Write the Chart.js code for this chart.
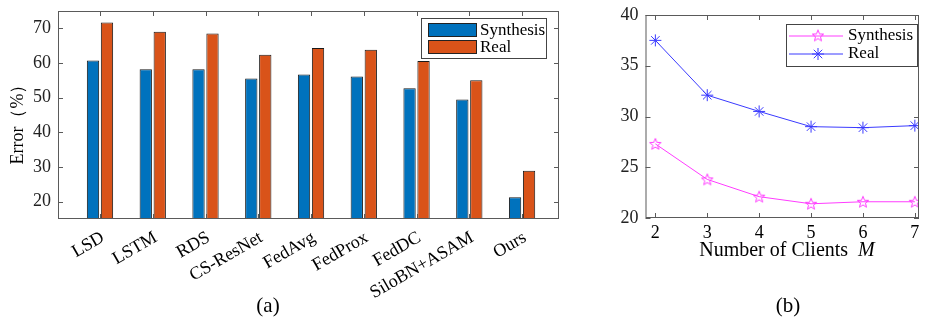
<!DOCTYPE html>
<html>
<head>
<meta charset="utf-8">
<script src="https://cdn.jsdelivr.net/npm/chart.js@4.4.1/dist/chart.umd.min.js"></script>
<style>
  html, body { margin: 0; padding: 0; background: #fff; }
  body { width: 926px; height: 324px; position: relative; overflow: hidden; }
  .box { position: absolute; top: 0; height: 324px; }
  #boxA { left: 0; width: 600px; }
  #boxB { left: 600px; width: 326px; }
</style>
</head>
<body>
<div class="box" id="boxA"><canvas id="barChart"></canvas></div>
<div class="box" id="boxB"><canvas id="lineChart"></canvas></div>
<script>
// (a) error of each method
const methods = ['LSD', 'LSTM', 'RDS', 'CS-ResNet', 'FedAvg', 'FedProx', 'FedDC', 'SiloBN+ASAM', 'Ours'];
const synthErr = [60.7, 58.2, 58.2, 55.5, 56.7, 56.1, 52.7, 49.5, 21.3];
const realErr = [71.7, 69.0, 68.5, 62.4, 64.3, 63.8, 60.6, 55.0, 28.9];
const errTicks = [20, 30, 40, 50, 60, 70];

// (b) error vs number of clients
const clients = [2, 3, 4, 5, 6, 7];
const synthByM = [27.3, 23.8, 22.1, 21.4, 21.6, 21.6];
const realByM = [37.5, 32.1, 30.5, 29.0, 28.9, 29.1];
const mTicks = [20, 25, 30, 35, 40];

const SERIF = '"Liberation Serif", "Times New Roman", serif';
const BLUE = '#0072BD';
const RED = '#D95319';
const MAGENTA = '#ff3cff';
const LBLUE = '#3a3aff';

// pentagram marker for the Synthesis line
function starMarker(color) {
  const c = document.createElement('canvas');
  c.width = 14; c.height = 14;
  const g = c.getContext('2d');
  g.strokeStyle = color;
  g.lineWidth = 1;
  g.beginPath();
  for (let i = 0; i < 10; i++) {
    const r = i % 2 === 0 ? 6 : 2.6;
    const a = -Math.PI / 2 + i * Math.PI / 5;
    const px = 7 + r * Math.cos(a), py = 7.5 + r * Math.sin(a);
    if (i === 0) g.moveTo(px, py); else g.lineTo(px, py);
  }
  g.closePath();
  g.stroke();
  return c;
}
const pentagram = starMarker(MAGENTA);

// MATLAB-like box with inward tick marks
function boxPlugin(xTicks, yTicks) {
  return {
    id: 'box',
    afterDatasetsDraw(chart) {
      const { ctx, chartArea: a, scales } = chart;
      ctx.save();
      ctx.strokeStyle = '#5a5a5a';
      ctx.lineWidth = 1;
      ctx.strokeRect(a.left + 0.5, a.top + 0.5, a.right - a.left - 1, a.bottom - a.top - 1);
      ctx.beginPath();
      xTicks.forEach(v => {
        const x = Math.round(scales.x.getPixelForValue(v)) + 0.5;
        ctx.moveTo(x, a.bottom); ctx.lineTo(x, a.bottom - 5);
        ctx.moveTo(x, a.top); ctx.lineTo(x, a.top + 5);
      });
      yTicks.forEach(v => {
        const y = Math.round(scales.y.getPixelForValue(v)) + 0.5;
        ctx.moveTo(a.left, y); ctx.lineTo(a.left + 5, y);
        ctx.moveTo(a.right, y); ctx.lineTo(a.right - 5, y);
      });
      ctx.stroke();
      ctx.restore();
    }
  };
}

function drawText(ctx, text, x, y, font, rot) {
  ctx.save();
  ctx.translate(x, y);
  if (rot) ctx.rotate(rot);
  ctx.font = font;
  ctx.fillStyle = '#000';
  ctx.textAlign = 'center';
  ctx.textBaseline = 'middle';
  ctx.fillText(text, 0, 0);
  ctx.restore();
}

const labelsA = {
  id: 'labelsA',
  afterDraw(chart) {
    const ctx = chart.ctx;
    drawText(ctx, 'Error（%）', 18, 120, '18px ' + SERIF, -Math.PI / 2);
    drawText(ctx, '(a)', 268, 306, '21px ' + SERIF);
    // legend
    const bx = 421.5, by = 18.5, bw = 125, bh = 40;
    ctx.save();
    ctx.fillStyle = '#fff';
    ctx.fillRect(bx, by, bw, bh);
    ctx.strokeStyle = '#444';
    ctx.lineWidth = 1;
    ctx.strokeRect(bx, by, bw, bh);
    chart.data.datasets.forEach((ds, i) => {
      const ry = 23.5 + i * 17;
      ctx.fillStyle = ds.backgroundColor;
      ctx.fillRect(428.5, ry, 48, 13);
      ctx.strokeStyle = '#222';
      ctx.strokeRect(428.5, ry, 48, 13);
      ctx.fillStyle = '#000';
      ctx.font = '17px ' + SERIF;
      ctx.textAlign = 'left';
      ctx.textBaseline = 'middle';
      ctx.fillText(ds.label, 480, ry + 7);
    });
    ctx.restore();
  }
};

const labelsB = {
  id: 'labelsB',
  afterDraw(chart) {
    const ctx = chart.ctx;
    ctx.save();
    ctx.fillStyle = '#000';
    ctx.textBaseline = 'middle';
    ctx.textAlign = 'left';
    const t1 = 'Number of Clients  ';
    ctx.font = '20px ' + SERIF;
    const w1 = ctx.measureText(t1).width;
    ctx.font = 'italic 20px ' + SERIF;
    const w2 = ctx.measureText('M').width;
    const x0 = 187 - (w1 + w2) / 2;
    ctx.font = '20px ' + SERIF;
    ctx.fillText(t1, x0, 251);
    ctx.font = 'italic 20px ' + SERIF;
    ctx.fillText('M', x0 + w1, 251);
    ctx.restore();
    drawText(ctx, '(b)', 188, 306, '21px ' + SERIF);
    // legend
    const bx = 186.5, by = 24.5, bw = 131, bh = 42;
    ctx.save();
    ctx.fillStyle = '#fff';
    ctx.fillRect(bx, by, bw, bh);
    ctx.strokeStyle = '#444';
    ctx.lineWidth = 1;
    ctx.strokeRect(bx, by, bw, bh);
    chart.data.datasets.forEach((ds, i) => {
      const ry = 36 + i * 18;
      ctx.strokeStyle = ds.borderColor;
      ctx.beginPath();
      ctx.moveTo(189, ry); ctx.lineTo(243, ry);
      ctx.stroke();
      if (ds.pointStyle === 'star') {
        ctx.beginPath();
        for (let k = 0; k < 4; k++) {
          const ang = k * Math.PI / 4;
          ctx.moveTo(218 - 6 * Math.cos(ang), ry - 6 * Math.sin(ang));
          ctx.lineTo(218 + 6 * Math.cos(ang), ry + 6 * Math.sin(ang));
        }
        ctx.stroke();
      } else {
        ctx.drawImage(pentagram, 211, ry - 7.5);
      }
      ctx.fillStyle = '#000';
      ctx.font = '17px ' + SERIF;
      ctx.textAlign = 'left';
      ctx.textBaseline = 'middle';
      ctx.fillText(ds.label, 248, ry);
    });
    ctx.restore();
  }
};

const commonAxis = {
  grid: { display: false, drawTicks: false },
  border: { display: false }
};

new Chart(document.getElementById('barChart'), {
  type: 'bar',
  data: {
    datasets: [{
      label: 'Synthesis',
      data: synthErr.map((v, i) => ({ x: i + 1, y: v })),
      backgroundColor: BLUE,
      borderColor: '#1a1a1a',
      borderWidth: 1
    }, {
      label: 'Real',
      data: realErr.map((v, i) => ({ x: i + 1, y: v })),
      backgroundColor: RED,
      borderColor: '#1a1a1a',
      borderWidth: 1
    }]
  },
  options: {
    responsive: true,
    maintainAspectRatio: false,
    animation: false,
    categoryPercentage: 0.53,
    barPercentage: 0.88,
    layout: { padding: { left: 0, top: 11, right: 41, bottom: 0 } },
    plugins: { legend: { display: false }, tooltip: { enabled: false } },
    scales: {
      x: {
        ...commonAxis,
        type: 'linear',
        offset: false,
        min: 0.204,
        max: 9.70,
        afterFit: s => { s.height = 105; s.paddingLeft = 0; s.paddingRight = 0; },
        afterBuildTicks: s => { s.ticks = methods.map((m, i) => ({ value: i + 1 })); },
        ticks: {
          autoSkip: false,
          minRotation: 30,
          maxRotation: 30,
          padding: 8,
          labelOffset: 3,
          color: '#000',
          font: { family: SERIF, size: 18 },
          callback: v => methods[v - 1] || ''
        }
      },
      y: {
        ...commonAxis,
        min: 15,
        max: 75,
        afterFit: s => { s.width = 58; s.paddingTop = 0; s.paddingBottom = 0; },
        afterBuildTicks: s => { s.ticks = errTicks.map(v => ({ value: v })); },
        ticks: { padding: 7, color: '#222', font: { family: SERIF, size: 18 } }
      }
    }
  },
  plugins: [boxPlugin(methods.map((m, i) => i + 1), errTicks), labelsA]
});

new Chart(document.getElementById('lineChart'), {
  type: 'line',
  data: {
    datasets: [{
      label: 'Synthesis',
      data: clients.map((m, i) => ({ x: m, y: synthByM[i] })),
      borderColor: MAGENTA,
      borderWidth: 1,
      pointStyle: pentagram,
      pointRadius: 6
    }, {
      label: 'Real',
      data: clients.map((m, i) => ({ x: m, y: realByM[i] })),
      borderColor: LBLUE,
      borderWidth: 1,
      pointStyle: 'star',
      pointRadius: 6,
      pointBorderColor: LBLUE,
      pointBorderWidth: 1
    }]
  },
  options: {
    responsive: true,
    maintainAspectRatio: false,
    animation: false,
    layout: { padding: { left: 0, top: 15, right: 0, bottom: 0 } },
    plugins: { legend: { display: false }, tooltip: { enabled: false } },
    scales: {
      x: {
        ...commonAxis,
        type: 'linear',
        min: 1.81,
        max: 7.08,
        afterFit: s => { s.height = 324 - 15 - 203; s.paddingLeft = 0; s.paddingRight = 0; },
        afterBuildTicks: s => { s.ticks = clients.map(v => ({ value: v })); },
        ticks: { padding: 4, color: '#000', font: { family: SERIF, size: 18 } }
      },
      y: {
        ...commonAxis,
        min: 20,
        max: 40,
        afterFit: s => { s.width = 45.5; s.paddingTop = 0; s.paddingBottom = 0; },
        afterBuildTicks: s => { s.ticks = mTicks.map(v => ({ value: v })); },
        ticks: { padding: 7, color: '#222', font: { family: SERIF, size: 18 } }
      }
    }
  },
  plugins: [boxPlugin(clients, mTicks), labelsB]
});
</script>
</body>
</html>
